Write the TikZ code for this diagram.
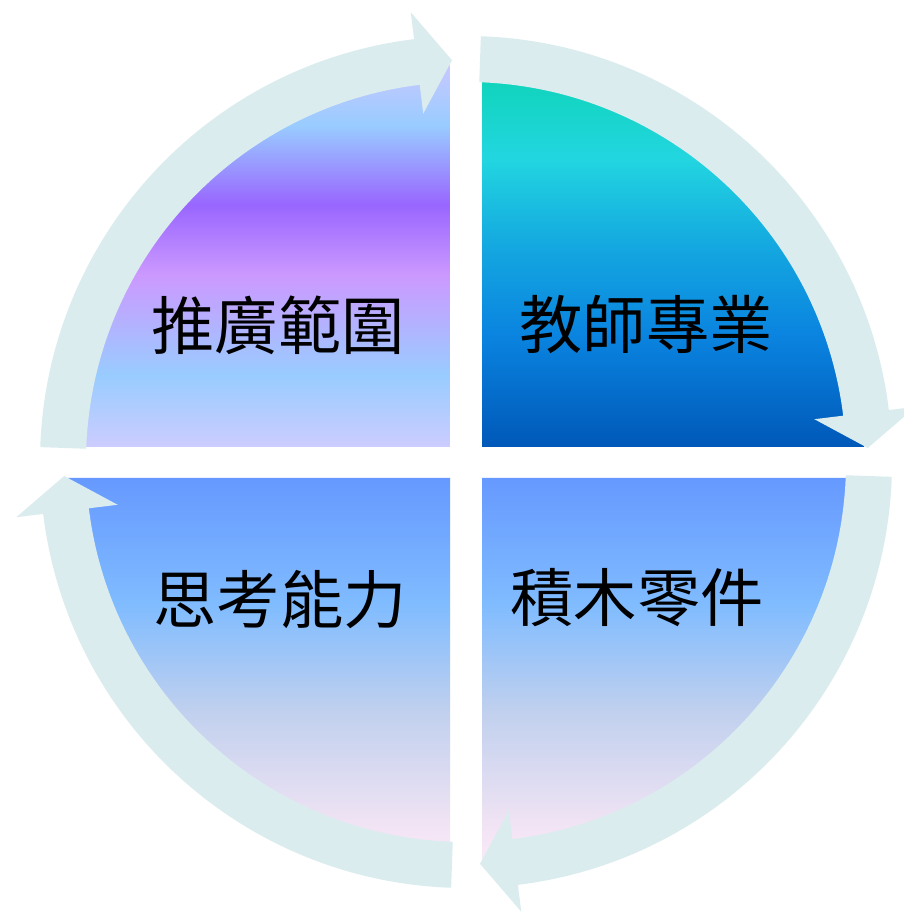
\documentclass[tikz,border=0pt]{standalone}
\usepackage{fontspec}
\usepackage{xcolor}
\usepackage{tikz}
\newfontfamily\cjkfont{Noto Sans CJK TC}
\definecolor{ringcol}{HTML}{DAECEE}
\definecolor{tlA}{HTML}{C8C8FF}
\definecolor{tlB}{HTML}{99CCFF}
\definecolor{tlC}{HTML}{9966FF}
\definecolor{tlD}{HTML}{CC99FF}
\definecolor{tlE}{HTML}{CCCCFF}
\definecolor{trA}{HTML}{00CCA0}
\definecolor{trB}{HTML}{10D4BC}
\definecolor{trC}{HTML}{22D6E0}
\definecolor{trD}{HTML}{14A8E0}
\definecolor{trE}{HTML}{0A84E0}
\definecolor{trF}{HTML}{0058B8}
\definecolor{btA}{HTML}{6699FF}
\definecolor{btB}{HTML}{80BCFF}
\definecolor{btC}{HTML}{C0D0EE}
\definecolor{btD}{HTML}{F2E4F4}
\definecolor{btE}{HTML}{F8EAF8}
\pgfdeclareverticalshading{promoshade}{100bp}{color(0bp)=(tlE); color(25bp)=(tlE);
  color(34.4bp)=(tlB); color(47.5bp)=(tlD); color(56.7bp)=(tlC); color(67.1bp)=(tlB);
  color(75bp)=(tlA); color(100bp)=(tlA)}
\pgfdeclareverticalshading{teachshade}{100bp}{color(0bp)=(trF); color(25bp)=(trF);
  color(39.7bp)=(trE); color(51.4bp)=(trD); color(62.8bp)=(trC); color(73bp)=(trB);
  color(75bp)=(trA); color(100bp)=(trA)}
\pgfdeclareverticalshading{lowshade}{100bp}{color(0bp)=(btE); color(25bp)=(btE);
  color(29.2bp)=(btD); color(44.5bp)=(btC); color(58.4bp)=(btB);
  color(75bp)=(btA); color(100bp)=(btA)}
\tikzset{
quadtext/.style={inner sep=0pt, text=black, font=\cjkfont\fontsize{18}{20}\selectfont},
ringband/.style={fill=ringcol, draw=none}
}

\begin{document}
\begin{tikzpicture}
\useasboundingbox[fill=white] (-4.66,-4.54) rectangle (4.37,4.62);
% quarter pieces
\shade[shading=promoshade] (-0.16,0.15) -- (-3.98,0.15) arc[start angle=180,end angle=90,radius=3.82] -- cycle;
\shade[shading=teachshade] (0.16,0.15) -- (0.16,3.97) arc[start angle=90,end angle=0,radius=3.82] -- cycle;
\shade[shading=lowshade] (0.16,-0.16) -- (3.98,-0.16) arc[start angle=0,end angle=-90,radius=3.82] -- cycle;
\shade[shading=lowshade] (-0.16,-0.16) -- (-0.16,-3.98) arc[start angle=-90,end angle=-180,radius=3.82] -- cycle;
% texts
\node[quadtext] (promo) at (-1.88,1.37) {推廣範圍};
\node[quadtext] (teach) at (1.80,1.37) {教師專業};
\node[quadtext] (blocks) at (1.71,-1.36) {積木零件};
\node[quadtext] (think) at (-1.86,-1.38) {思考能力};
% circular arrows
\foreach \r in {0,-90,-180,-270}
\fill[ringband,rotate=\r] (88:4.26) arc[start angle=88,end angle=7,radius=4.26]
  -- (7:4.53) -- (2:4.02) -- (7:3.51) -- (7:3.80)
  arc[start angle=7,end angle=88,radius=3.80] -- cycle;
\end{tikzpicture}
\end{document}
